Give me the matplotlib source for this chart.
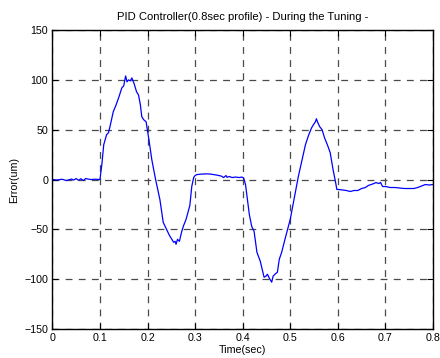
import matplotlib
matplotlib.use('Agg')
import matplotlib.pyplot as plt

# error trace, split in segments (time in sec, error in um)
t_start = [0.0, 0.01, 0.02, 0.03, 0.04, 0.045, 0.05, 0.055, 0.06, 0.065, 0.07, 0.08, 0.09, 0.1]
e_start = [0.0, -0.5, 0.3, -1.0, 0.5, -0.5, 1.0, -0.8, 0.8, -1.0, 1.0, 0.0, 0.3, 0.0]

t_first = [0.104, 0.108, 0.114, 0.118, 0.122, 0.128, 0.134, 0.140, 0.146, 0.150,
           0.154, 0.157, 0.160, 0.164, 0.167, 0.172, 0.177, 0.181, 0.185, 0.188,
           0.192, 0.197, 0.203, 0.209, 0.217, 0.226, 0.233, 0.240, 0.246, 0.251,
           0.255, 0.258, 0.260, 0.263, 0.267, 0.272, 0.276, 0.281, 0.285, 0.289,
           0.293, 0.297, 0.300]
e_first = [15, 35, 45, 47, 55, 68, 75, 83, 92, 94,
           104, 98, 100, 99, 102, 96, 88, 85, 75, 63,
           60, 58, 40, 20, 0, -20, -43, -50, -56, -60,
           -63, -62, -65, -60, -62, -52, -46, -40, -33, -26,
           -7, 2, 4]

t_second = [0.304, 0.315, 0.325, 0.332, 0.345, 0.355, 0.360, 0.365, 0.367, 0.372,
            0.378, 0.385, 0.393, 0.398, 0.402, 0.406, 0.410, 0.414, 0.419, 0.424,
            0.430, 0.434, 0.437, 0.441, 0.445, 0.449, 0.452, 0.456, 0.461, 0.464,
            0.468, 0.473, 0.477, 0.482, 0.490, 0.500, 0.508, 0.517, 0.525, 0.532,
            0.539, 0.545, 0.550, 0.553, 0.555, 0.558, 0.562, 0.567, 0.572, 0.578,
            0.584, 0.590, 0.595, 0.598]
e_second = [5, 5.5, 5.7, 5.5, 4.5, 3.5, 2, 4, 2.3, 3,
            2, 2.5, 2, 2.5, 1.7, -5, -20, -35, -47, -52,
            -73, -78, -82, -90, -98, -97, -95, -99, -103, -97,
            -95, -93, -80, -73, -58, -40, -20, 3, 20, 35,
            45, 52, 56, 58, 61, 57, 53, 50, 42, 35,
            27, 10, -2, -10]

t_tail = [0.602, 0.610, 0.618, 0.626, 0.634, 0.642, 0.650, 0.658, 0.664, 0.670,
          0.676, 0.680, 0.686, 0.690, 0.694, 0.700, 0.710, 0.720, 0.730, 0.740,
          0.750, 0.760, 0.768, 0.776, 0.784, 0.792, 0.800]
e_tail = [-10, -10.5, -11, -12, -11, -11, -9, -8, -6, -5,
          -4, -3, -4, -3, -7, -7, -8, -8, -8.5, -9,
          -9, -9, -8, -6.5, -5, -5.5, -5]

time = t_start + t_first + t_second + t_tail
error = e_start + e_first + e_second + e_tail

x_ticks = [0, 0.1, 0.2, 0.3, 0.4, 0.5, 0.6, 0.7, 0.8]
x_labels = ['0', '0.1', '0.2', '0.3', '0.4', '0.5', '0.6', '0.7', '0.8']
y_ticks = [-150, -100, -50, 0, 50, 100, 150]

plt.rcParams['font.family'] = ['Liberation Sans', 'DejaVu Sans']

fig = plt.figure(figsize=(4.4, 3.58), dpi=100)
ax = fig.add_axes([0.119, 0.081, 0.865, 0.835])

ax.plot(time, error, color='#0000ff', lw=0.9)

ax.set_xlim(0, 0.8)
ax.set_ylim(-150, 150)
ax.set_xticks(x_ticks)
ax.set_xticklabels(x_labels)
ax.set_yticks(y_ticks)
ax.grid(True, color='#4a4a4a', ls=(0, (5.5, 5)), lw=0.9)
ax.tick_params(direction='in', length=4, labelsize=7.7, top=True, right=True, pad=3)
for s in ax.spines.values():
    s.set_linewidth(1.0)

ax.set_title('PID Controller(0.8sec profile) - During the Tuning -', fontsize=8.1, pad=7)
ax.set_xlabel('Time(sec)', fontsize=7.7, labelpad=1)
ax.set_ylabel('Error(um)', fontsize=7.7, labelpad=4)

fig.savefig('out.png', dpi=100)
